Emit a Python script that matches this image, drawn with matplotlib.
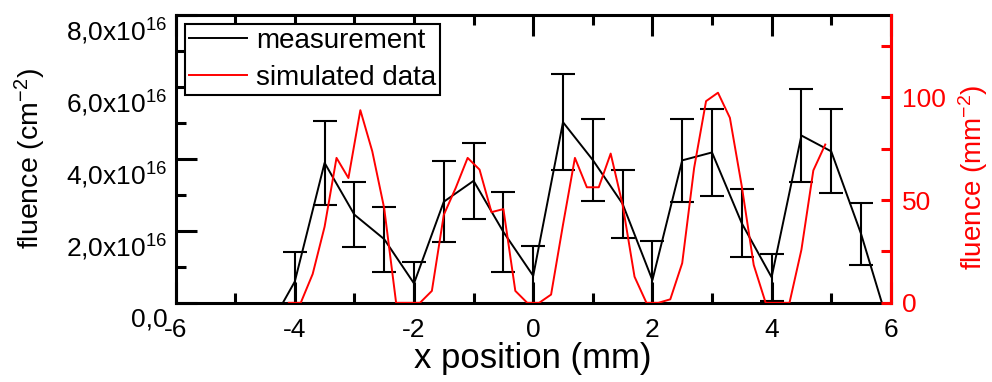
import matplotlib
matplotlib.use("Agg")
import matplotlib.pyplot as plt
from matplotlib.ticker import MultipleLocator
from matplotlib.transforms import ScaledTranslation

plt.rcParams['font.family'] = ['Liberation Sans', 'DejaVu Sans']
plt.rcParams['mathtext.fontset'] = 'custom'
plt.rcParams['mathtext.rm'] = 'Liberation Sans'
plt.rcParams['mathtext.it'] = 'Liberation Sans'

# measurement (fluence in 1e16 cm^-2)
meas_x = [-4.2, -4.0, -3.5, -3.0, -2.5, -2.0, -1.5, -1.0, -0.5, 0.0, 0.5,
          1.0, 1.5, 2.0, 2.5, 3.0, 3.5, 4.0, 4.5, 5.0, 5.5, 5.85]
meas_y = [0.0, 0.59, 3.89, 2.45, 1.77, 0.54, 2.81, 3.39, 1.97, 0.75, 5.02,
          3.97, 2.75, 0.63, 3.96, 4.18, 2.21, 0.71, 4.65, 4.21, 1.92, 0.0]
meas_err = [0.0, 0.83, 1.16, 0.91, 0.90, 0.60, 1.13, 1.05, 1.12, 0.83, 1.33,
            1.15, 0.94, 1.09, 1.16, 1.20, 0.95, 0.65, 1.29, 1.17, 0.86, 0.0]

# simulated data (mm^-2)
sim_x = [-4.1, -3.9, -3.7, -3.5, -3.3, -3.1, -2.9, -2.7, -2.5, -2.3, -2.1,
         -1.9, -1.7, -1.5, -1.3, -1.1, -0.9, -0.7, -0.5, -0.3, -0.1,
         0.1, 0.3, 0.5, 0.7, 0.9, 1.1, 1.3, 1.5, 1.7, 1.9, 2.1,
         2.3, 2.5, 2.7, 2.9, 3.1, 3.3, 3.5, 3.7, 3.9, 4.1, 4.3, 4.5, 4.7, 4.9]
sim_y = [0, 0, 14, 37, 70.5, 60.7, 93.7, 73.7, 46, 0, 0,
         0, 5.8, 42.8, 55.9, 70.5, 64.8, 44.1, 45.6, 5.8, 0,
         0, 4, 38, 70.5, 56.2, 56.2, 72.6, 47.7, 12.7, 0, 0,
         1.7, 19.3, 65.6, 98.1, 102.2, 90, 56.6, 18.4, 0, 0, 0, 25.8, 64.4, 77]

left_ticks = [0, 2, 4, 6, 8]
left_labels = ['0,0', r'2,0x10$^{16}$', r'4,0x10$^{16}$', r'6,0x10$^{16}$', r'8,0x10$^{16}$']
x_ticks = [-6, -4, -2, 0, 2, 4, 6]
right_ticks = [0, 50, 100]

fig = plt.figure(figsize=(9.92, 3.82), dpi=100)
ax = fig.add_axes([0.177, 0.2073, 0.721, 0.7534])
ax2 = ax.twinx()

ax.plot(meas_x, meas_y, color='black', lw=1.4, label='measurement', zorder=3)
ax.errorbar(meas_x[1:-1], meas_y[1:-1], yerr=meas_err[1:-1], fmt='none',
            ecolor='black', elinewidth=1.5, capsize=8.5, capthick=1.5, zorder=3)
ax2.plot(sim_x, sim_y, color='#ff0000', lw=1.4, label='simulated data')

ax.set_xlim(-6, 6)
ax.set_ylim(0, 8)
ax2.set_ylim(0, 140)

ax.set_xticks(x_ticks)
ax.set_xticklabels([str(t) for t in x_ticks])
ax.xaxis.set_minor_locator(MultipleLocator(1))
ax.set_yticks(left_ticks)
ax.set_yticklabels(left_labels)
ax.yaxis.set_minor_locator(MultipleLocator(1))
ax2.set_yticks(right_ticks)
ax2.yaxis.set_minor_locator(MultipleLocator(25))

for s in ax.spines.values():
    s.set_linewidth(2.2)
for name, s in ax2.spines.items():
    s.set_linewidth(2.2)
    if name != 'right':
        s.set_visible(False)
ax2.spines['right'].set_color('#ff0000')

ax.tick_params(axis='x', which='both', direction='in', top=True, bottom=True,
               labelsize=19, pad=11, width=2.2)
ax.tick_params(axis='x', which='major', length=15)
ax.tick_params(axis='x', which='minor', length=7)
ax.tick_params(axis='y', which='both', direction='in', left=True, right=False,
               labelsize=19, pad=6, width=2.2)
ax.tick_params(axis='y', which='major', length=15)
ax.tick_params(axis='y', which='minor', length=7)
ax2.tick_params(axis='y', which='both', direction='in', colors='#ff0000',
                labelsize=19, pad=8, width=2.2, length=7)

# left tick labels sit slightly below their ticks in the reference
shift = ScaledTranslation(0, -0.14, fig.dpi_scale_trans)
for tick in ax.yaxis.get_major_ticks():
    tick.label1.set_transform(tick.label1.get_transform() + shift)

ax.set_xlabel('x position (mm)', fontsize=25, labelpad=0)
ax.set_ylabel('fluence (cm$^{-2}$)', fontsize=20.5)
ax.yaxis.set_label_coords(-0.179, 0.5015)
ax2.set_ylabel('fluence (mm$^{-2}$)', fontsize=20)
ax2.yaxis.label.set_color('#ff0000')
ax2.yaxis.set_label_coords(1.092, 0.437)

h1, l1 = ax.get_legend_handles_labels()
h2, l2 = ax2.get_legend_handles_labels()
leg = ax2.legend(h1 + h2, l1 + l2, loc='upper left', bbox_to_anchor=(0.013, 0.969),
                 borderaxespad=0, fontsize=20, frameon=True, fancybox=False,
                 edgecolor='black', framealpha=1, handlelength=2.1,
                 handletextpad=0.3, labelspacing=0.4, borderpad=0.15)
leg.get_frame().set_linewidth(1.5)

fig.savefig('out.png', dpi=100)
